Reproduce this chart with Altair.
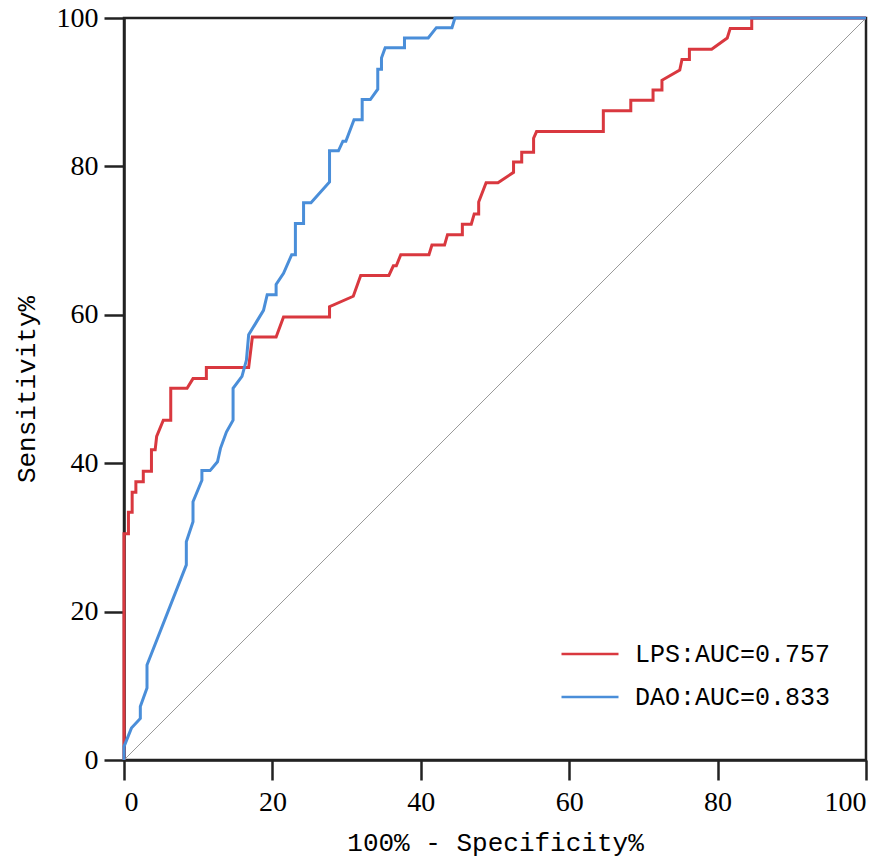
import altair as alt
import pandas as pd

# LPS ROC curve vertices (100% - specificity, sensitivity)
lps_x = [0, 0, 0.6, 0.6, 1.1, 1.1, 1.6, 1.6, 2.6, 2.6, 3.7, 3.7, 4.2, 4.4, 5.3, 6.3, 6.3, 8.5, 9.3, 11.1,
         11.1, 16.8, 17.3, 20.5, 21.5, 27.7, 27.7, 30.9, 31.9, 35.7, 36.3, 36.7, 37.3, 41.1, 41.5, 43.2,
         43.6, 45.6, 45.6, 46.8, 47.2, 47.8, 47.8, 48.8, 50.4, 52.5, 52.5, 53.6, 53.6, 55.2, 55.2, 55.6,
         64.6, 64.6, 68.3, 68.3, 71.3, 71.3, 72.5, 72.5, 74.9, 75.2, 76.2, 76.2, 79.2, 81.3, 81.7, 84.6,
         84.6, 100]
lps_y = [0, 30.5, 30.5, 33.4, 33.4, 36.1, 36.1, 37.5, 37.5, 38.9, 38.9, 41.8, 41.8, 43.6, 45.8, 45.8, 50.1,
         50.1, 51.4, 51.4, 52.9, 52.9, 57.0, 57.0, 59.7, 59.7, 61.1, 62.5, 65.3, 65.3, 66.6, 66.6, 68.1,
         68.1, 69.4, 69.4, 70.8, 70.8, 72.2, 72.2, 73.6, 73.6, 75.2, 77.8, 77.8, 79.2, 80.6, 80.6, 81.9,
         81.9, 83.8, 84.7, 84.7, 87.5, 87.5, 88.9, 88.9, 90.3, 90.3, 91.6, 93.0, 94.4, 94.4, 95.8, 95.8,
         97.3, 98.6, 98.6, 100, 100]

# DAO ROC curve vertices
dao_x = [0, 0, 1.0, 2.2, 2.2, 3.1, 3.1, 8.4, 8.4, 9.3, 9.3, 10.5, 10.5, 11.6, 12.6, 13.0, 13.8, 14.7, 14.7,
         15.9, 16.5, 16.8, 18.8, 19.3, 20.5, 20.5, 21.5, 22.6, 23.1, 23.1, 24.2, 24.2, 25.2, 27.7, 27.7,
         28.9, 29.5, 29.9, 31.0, 32.1, 32.1, 33.2, 34.2, 34.2, 34.7, 34.7, 35.2, 37.8, 37.8, 41.0, 42.1,
         44.2, 44.6, 100]
dao_y = [0, 1.8, 4.3, 5.6, 7.2, 9.7, 12.8, 26.3, 29.4, 32.1, 34.8, 37.7, 39.0, 39.0, 40.2, 42.0, 44.2, 45.8,
         50.1, 51.7, 53.9, 57.3, 60.6, 62.7, 62.7, 64.1, 65.6, 68.1, 68.1, 72.3, 72.3, 75.1, 75.1, 77.9,
         82.1, 82.1, 83.4, 83.4, 86.3, 86.3, 89.0, 89.0, 90.4, 93.1, 93.1, 94.6, 96.0, 96.0, 97.3, 97.3,
         98.7, 98.7, 100, 100]

series_names = ["LPS:AUC=0.757", "DAO:AUC=0.833"]
series_colors = ["#D9383F", "#4A8ED9"]

ref_x = [0, 100]
ref_y = [0, 100]

x_ticks = [0, 20, 40, 60, 80, 100]
y_ticks = [0, 20, 40, 60, 80, 100]

rows = []
for i, (xv, yv) in enumerate(zip(lps_x, lps_y)):
    rows.append({"x": xv, "y": yv, "series": series_names[0], "i": i})
for i, (xv, yv) in enumerate(zip(dao_x, dao_y)):
    rows.append({"x": xv, "y": yv, "series": series_names[1], "i": i})
df = pd.DataFrame(rows)
ref_df = pd.DataFrame({"x": ref_x, "y": ref_y})

xscale = alt.Scale(domain=[0, 100], nice=False)
yscale = alt.Scale(domain=[0, 100], nice=False)

x_axis = alt.Axis(
    values=x_ticks, title="100% - Specificity%", grid=False,
    labelFont="Liberation Serif", labelFontSize=28, labelColor="#000",
    labelPadding=8, tickSize=20, tickWidth=2.5, tickColor="#222",
    domainColor="#222", domainWidth=2.5,
    titleFont="Liberation Mono", titleFontSize=26, titleFontWeight="normal",
    titleColor="#000", titlePadding=13,
)
y_axis = alt.Axis(
    values=y_ticks, title="Sensitivity%", grid=False,
    labelFont="Liberation Serif", labelFontSize=28, labelColor="#000",
    labelPadding=6, tickSize=20, tickWidth=2.5, tickColor="#222",
    domainColor="#222", domainWidth=2.5,
    titleFont="Liberation Mono", titleFontSize=26, titleFontWeight="normal",
    titleColor="#000", titlePadding=17,
)

ref = alt.Chart(ref_df).mark_line(color="#999999", strokeWidth=1).encode(
    x=alt.X("x:Q", scale=xscale, axis=x_axis),
    y=alt.Y("y:Q", scale=yscale, axis=y_axis),
)

color = alt.Color(
    "series:N",
    scale=alt.Scale(domain=series_names, range=series_colors),
    legend=alt.Legend(
        title=None, orient="none", legendX=436, legendY=606,
        symbolType="stroke", symbolSize=3249, symbolStrokeWidth=2.5,
        labelFont="Liberation Mono", labelFontSize=25, labelColor="#000",
        labelOffset=15, labelLimit=0, rowPadding=-15, padding=0,
    ),
)

curves = alt.Chart(df).mark_line(strokeWidth=3, interpolate="linear").encode(
    x=alt.X("x:Q", scale=xscale),
    y=alt.Y("y:Q", scale=yscale),
    color=color,
    order=alt.Order("i:Q"),
)

chart = alt.layer(ref, curves).properties(
    width=742, height=742,
    padding={"left": 116, "top": 10, "right": 20, "bottom": 97},
    autosize=alt.AutoSizeParams(type="none"),
    background="white",
).configure_view(stroke="#222", strokeWidth=2.5)

chart.save("out.html", embed_options={"renderer": "svg", "actions": False})
